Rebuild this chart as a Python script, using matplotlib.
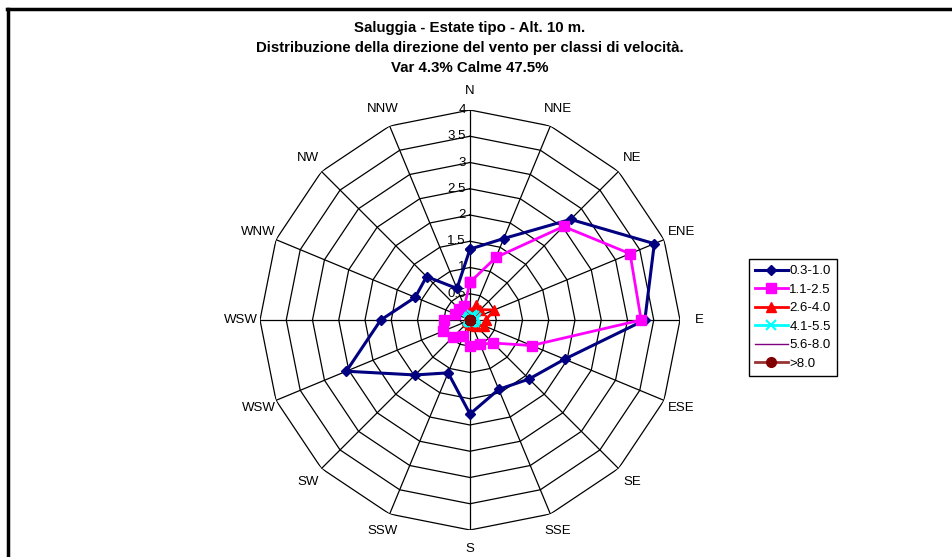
import numpy as np
import matplotlib
matplotlib.use("Agg")
import matplotlib.pyplot as plt
from matplotlib.lines import Line2D

plt.rcParams['font.family'] = ['Liberation Sans', 'DejaVu Sans']

directions = ["N", "NNE", "NE", "ENE", "E", "ESE", "SE", "SSE",
              "S", "SSW", "SW", "WSW", "WSW", "WNW", "NW", "NNW"]
radial_ticks = [0, 0.5, 1, 1.5, 2, 2.5, 3, 3.5, 4]
tick_labels = ["0", "0.5", "1", "1.5", "2", "2.5", "3", "3.5", "4"]

series_names = ["0.3-1.0", "1.1-2.5", "2.6-4.0", "4.1-5.5", "5.6-8.0", ">8.0"]
s_03_10 = [1.35, 1.68, 2.71, 3.80, 3.33, 1.95, 1.59, 1.43,
           1.79, 1.09, 1.48, 2.55, 1.70, 1.13, 1.17, 0.65]
s_11_25 = [0.72, 1.29, 2.52, 3.30, 3.26, 1.27, 0.62, 0.50,
           0.50, 0.33, 0.46, 0.56, 0.50, 0.30, 0.30, 0.28]
s_26_40 = [0.15, 0.30, 0.28, 0.50, 0.30, 0.28, 0.15, 0.10,
           0.08, 0.05, 0.05, 0.05, 0.05, 0.05, 0.05, 0.06]
s_41_55 = [0.06, 0.10, 0.12, 0.12, 0.10, 0.08, 0.05, 0.04,
           0.03, 0.03, 0.03, 0.03, 0.03, 0.03, 0.03, 0.04]
s_56_80 = [0.02, 0.02, 0.03, 0.03, 0.02, 0.02, 0.01, 0.01,
           0.01, 0.01, 0.01, 0.01, 0.01, 0.01, 0.01, 0.01]
s_gt80 = [0.0] * 16

W, H = 953, 557
fig = plt.figure(figsize=(W / 100, H / 100), dpi=100)

cx, cy, R = 470, 320, 210
ax = fig.add_axes([(cx - R) / W, (H - cy - R) / H, 2 * R / W, 2 * R / H],
                  projection='polar')
ax.set_theta_zero_location('N')
ax.set_theta_direction(-1)
ax.set_ylim(0, 4)
ax.grid(False)
ax.spines['polar'].set_visible(False)
ax.set_xticks([])
ax.set_yticks([])
ax.patch.set_alpha(0)

n = len(directions)
theta = np.arange(n) * 2 * np.pi / n
theta_c = np.append(theta, theta[0])

# polygon grid
for r in radial_ticks[1:]:
    ax.plot(theta_c, [r] * (n + 1), color='black', lw=0.9, zorder=1)
for t in theta:
    ax.plot([t, t], [0, 4], color='black', lw=0.9, zorder=1)

# radial tick labels
for r, lab in zip(radial_ticks, tick_labels):
    ax.annotate(lab, xy=(0, r), xytext=(-3, 0), textcoords='offset points',
                ha='right', va='center', fontsize=9.5, zorder=2)

# direction labels
for t, lab in zip(theta, directions):
    ax.text(t, 4.36, lab, ha='center', va='center', fontsize=9.5)

styles = [
    dict(color='#000080', lw=2.2, marker='D', ms=5.5),
    dict(color='#FF00FF', lw=2.0, marker='s', ms=7.5),
    dict(color='#FF0000', lw=2.0, marker='^', ms=7.5),
    dict(color='#00FFFF', lw=2.0, marker='x', ms=7, mew=1.5),
    dict(color='#800080', lw=1.0, marker=None),
    dict(color='#993333', lw=2.0, marker='o', ms=7, mfc='#800000', mec='#800000'),
]
all_series = [s_03_10, s_11_25, s_26_40, s_41_55, s_56_80, s_gt80]
handles = []
for vals, st, name in zip(all_series, styles, series_names):
    v = np.append(vals, vals[0])
    ln, = ax.plot(theta_c, v, label=name, zorder=3, clip_on=False, **st)
    handles.append(ln)

fig.legend(handles=handles, labels=series_names,
           loc='upper left', bbox_to_anchor=(749 / W, 1 - 259 / H),
           frameon=True, fancybox=False, edgecolor='black', framealpha=1,
           fontsize=9.5, handlelength=2.5, handletextpad=0.1,
           labelspacing=0.48, borderpad=0.45, borderaxespad=0)

# title
title_kw = dict(ha='center', va='center', fontsize=10.8, fontweight='bold')
fig.text(cx / W, 1 - 28 / H, "Saluggia - Estate tipo - Alt. 10 m.", **title_kw)
fig.text(cx / W, 1 - 48 / H,
         "Distribuzione della direzione del vento per classi di velocità.",
         **title_kw)
fig.text(cx / W, 1 - 68 / H, "Var 4.3% Calme 47.5%", **title_kw)

# outer border (top and left)
fig.add_artist(Line2D([8 / W, 8 / W], [0, 1 - 9 / H], color='black', lw=2.5,
                      transform=fig.transFigure))
fig.add_artist(Line2D([7 / W, 1], [1 - 9 / H, 1 - 9 / H], color='black', lw=2.5,
                      transform=fig.transFigure))

fig.savefig("out.png", dpi=100)
